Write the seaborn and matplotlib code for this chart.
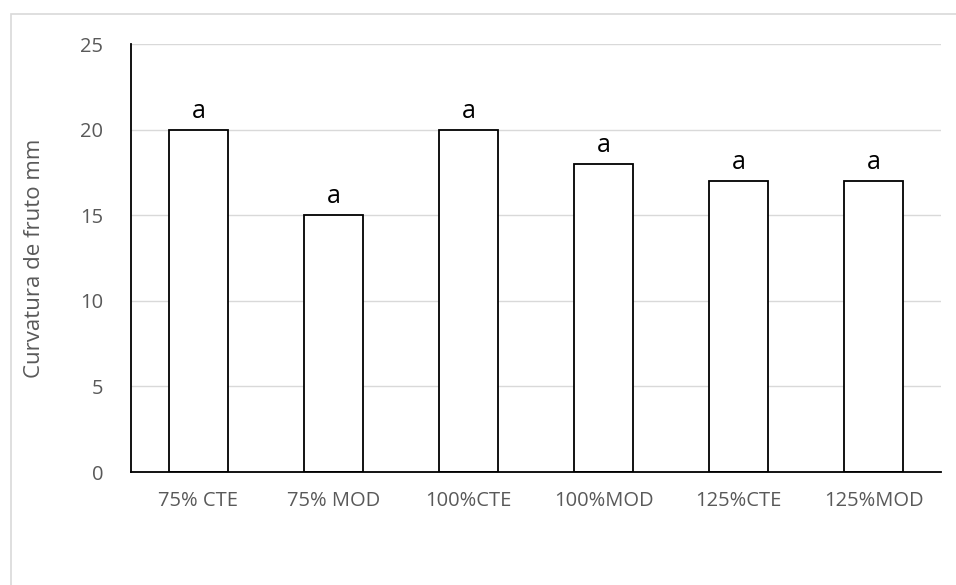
import matplotlib
matplotlib.use("Agg")
import matplotlib.pyplot as plt
import seaborn as sns
import pandas as pd
from matplotlib.patches import Rectangle

categories = ["75% CTE", "75% MOD", "100%CTE", "100%MOD", "125%CTE", "125%MOD"]
values = [20, 15, 20, 18, 17, 17]
letters = ["a", "a", "a", "a", "a", "a"]
y_ticks = [0, 5, 10, 15, 20, 25]

df = pd.DataFrame({"trat": categories, "curv": values})

sns.set_theme(style="white")
plt.rcParams["font.family"] = ["Open Sans", "DejaVu Sans"]

W, H = 956, 585
fig = plt.figure(figsize=(W / 100, H / 100), dpi=100)
ax = fig.add_axes([131 / W, 1 - 472 / H, (941 - 131) / W, (472 - 44) / H])

sns.barplot(data=df, x="trat", y="curv", ax=ax, color="white",
            edgecolor="black", linewidth=1.3, width=0.444, saturation=1)

ax.set_ylim(0, 25)
ax.set_yticks(y_ticks)
ax.set_xlim(-0.5, len(categories) - 0.5)
ax.yaxis.grid(True, color="#d9d9d9", linewidth=1)
ax.set_axisbelow(True)
for s in ["top", "right"]:
    ax.spines[s].set_visible(False)
ax.spines["left"].set_color("black")
ax.spines["left"].set_linewidth(1.3)
ax.spines["bottom"].set_color("black")
ax.spines["bottom"].set_linewidth(1.3)
ax.tick_params(axis="both", length=0, labelsize=14.5, colors="#595959")
ax.tick_params(axis="y", pad=20)
ax.tick_params(axis="x", pad=14)
ax.set_xlabel("")
ax.set_ylabel("Curvatura de fruto mm", fontsize=16, color="#595959", labelpad=25)

for i, (v, t) in enumerate(zip(values, letters)):
    ax.text(i, v + 0.35, t, ha="center", va="bottom", fontsize=18, color="black")

fig.patches.append(Rectangle((11 / W, -0.1), 1.1, 1 - 14 / H + 0.1,
                             transform=fig.transFigure, fill=False,
                             edgecolor="#d9d9d9", linewidth=1.2))

fig.savefig("out.png", dpi=100, facecolor="white")
